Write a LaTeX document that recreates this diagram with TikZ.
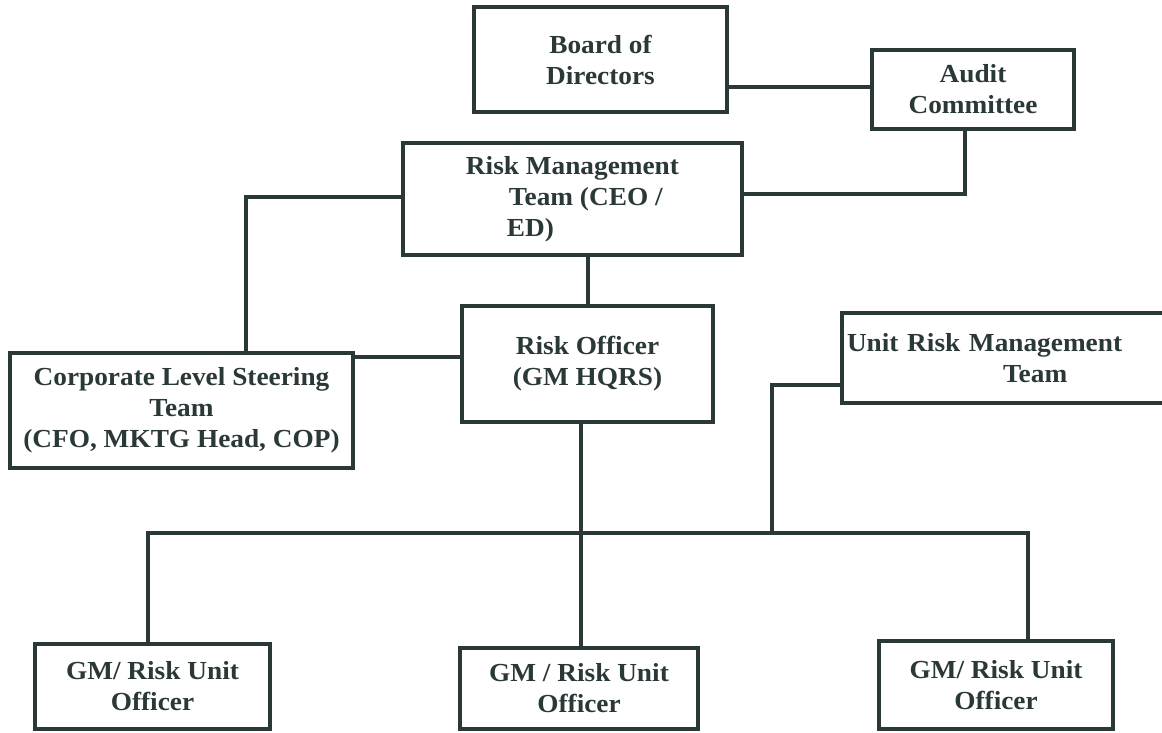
\documentclass[tikz,border=0pt]{standalone}
\usepackage{fontspec}
\setmainfont{Liberation Serif}[FakeStretch=1.05]
\definecolor{ink}{HTML}{2B3838}
\begin{document}
\begin{tikzpicture}[x=1pt,y=-1pt,
  box/.style={draw=ink, line width=4.5pt, text=ink, font=\bfseries\fontsize{26}{31}\selectfont, align=center, inner sep=0pt},
  conn/.style={draw=ink, line width=4pt, line cap=rect}]
\useasboundingbox (0,0) rectangle (1162,733);
\clip (0,0) rectangle (1162,733);
% boxes
\node[box, minimum width=253pt, minimum height=105pt] (board) at (600.5,59.5) {Board of\\Directors};
\node[box, minimum width=202pt, minimum height=79pt] (audit) at (973,89.5) {Audit\\Committee};
\node[box, minimum width=339pt, minimum height=112pt, align=left] (rm) at (572.5,199) {Risk Management\\\hspace*{43pt}Team (CEO /\\\hspace*{41pt}ED)};
\node[box, minimum width=343pt, minimum height=115pt] (corp) at (181.5,410.5) {Corporate Level Steering\\Team\\(CFO, MKTG Head, COP)};
\node[box, minimum width=251pt, minimum height=116pt] (ro) at (587.5,364) {Risk Officer\\(GM HQRS)};
\node[box, minimum width=333pt, minimum height=90pt, text width=323pt, align=left] (unit) at (1008.5,358) {Unit Risk Management\\\hspace*{156pt}Team};
\node[box, minimum width=235pt, minimum height=85pt] (gma) at (152.5,686.5) {GM/ Risk Unit\\Officer};
\node[box, minimum width=238pt, minimum height=81pt] (gmb) at (579,688.5) {GM / Risk Unit\\Officer};
\node[box, minimum width=234pt, minimum height=88pt] (gmc) at (996,685) {GM/ Risk Unit\\Officer};
% bus coordinates
\coordinate (busL) at (148,533);
\coordinate (busR) at (1028,533);
\coordinate (busU) at (772,533);
\coordinate (busM) at (581,533);
% connectors
\draw[conn] (board.east |- 0,87) -- (audit.west |- 0,87);
\draw[conn] (audit.south -| 965,0) |- (rm.east |- 0,194);
\draw[conn] (rm.west |- 0,197) -| (corp.north -| 246,0);
\draw[conn] (rm.south -| ro.north) -- (ro.north);
\draw[conn] (corp.east |- 0,357) -- (ro.west |- 0,357);
\draw[conn] (ro.south -| busM) -- (gmb.north -| busM);
\draw[conn] (gma.north -| busL) -- (busL) -- (busR) -- (gmc.north -| busR);
\draw[conn] (unit.west |- 0,385) -| (busU);
\end{tikzpicture}
\end{document}
